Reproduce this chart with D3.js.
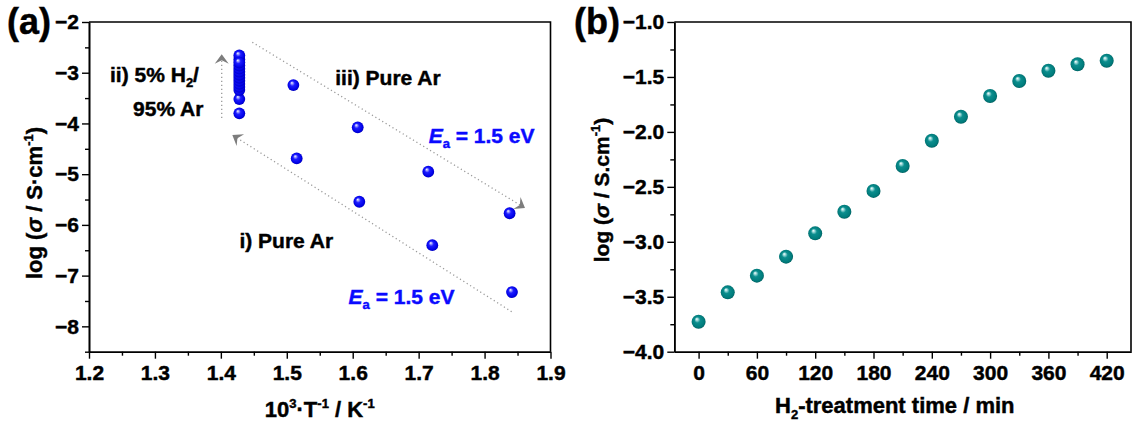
<!DOCTYPE html>
<html><head><meta charset="utf-8">
<script src="https://cdn.jsdelivr.net/npm/d3@7"></script>
<style>
html,body{margin:0;padding:0;background:#fff;}
svg{display:block;font-family:'Liberation Sans',Arial,sans-serif;font-weight:bold;}
svg text{stroke:#000;stroke-width:0.45px;}
svg text.blue{stroke:#0a0aff;}
</style></head><body>
<svg id="chart" width="1132" height="422"></svg>
<script>
// ---- Panel (a): Arrhenius plot, log(conductivity) vs 1000/T ----
const invT_i = [1.515, 1.610, 1.7207, 1.8416];          // i) pure Ar, first heating
const logSigma_i = [-4.69, -5.544, -6.40, -7.325];
const invT_iii = [1.510, 1.6076, 1.7146, 1.838];        // iii) pure Ar after H2 treatment
const logSigma_iii = [-3.243, -4.077, -4.95, -5.77];
const invT_ii = 1.428;                                   // ii) 5% H2 / 95% Ar at 700 K
const logSigma_ii = [-3.80, -3.52, -3.34, -3.28, -3.22, -3.16, -3.10, -3.04, -2.98, -2.92, -2.86, -2.74, -2.66, -2.80];
const ticksA_x = [1.2, 1.3, 1.4, 1.5, 1.6, 1.7, 1.8, 1.9];
const minorA_x = [1.25, 1.35, 1.45, 1.55, 1.65, 1.75, 1.85];
const ticksA_y = [-8, -7, -6, -5, -4, -3, -2];
const minorA_y = [-8.5, -7.5, -6.5, -5.5, -4.5, -3.5, -2.5];

// ---- Panel (b): log(conductivity) vs H2 treatment time ----
const treatTime = [0, 30, 60, 90, 120, 150, 180, 210, 240, 270, 300, 330, 360, 390, 420];
const logSigma_b = [-3.727, -3.46, -3.308, -3.135, -2.923, -2.726, -2.537, -2.31, -2.08, -1.862, -1.673, -1.537, -1.443, -1.385, -1.352];
const ticksB_x = [0, 60, 120, 180, 240, 300, 360, 420];
const minorB_x = [30, 90, 150, 210, 270, 330, 390];
const ticksB_y = [-4.0, -3.5, -3.0, -2.5, -2.0, -1.5, -1.0];
const minorB_y = [-3.75, -3.25, -2.75, -2.25, -1.75, -1.25];

const svg = d3.select('#chart');
const FONT = 21;

// sphere-like marker fills
const defs = svg.append('defs');
function sphere(id, stops) {
  const g = defs.append('radialGradient').attr('id', id)
    .attr('cx', '50%').attr('cy', '50%').attr('r', '55%')
    .attr('fx', '36%').attr('fy', '30%');
  stops.forEach(([o, c]) => g.append('stop').attr('offset', o).attr('stop-color', c));
}
sphere('ballBlue', [[0, '#ffffff'], [0.14, '#a8a8ff'], [0.38, '#1c1cff'], [0.8, '#0000e6'], [1, '#0000a0']]);
sphere('ballTeal', [[0, '#ffffff'], [0.14, '#a6dede'], [0.38, '#0b8e8e'], [0.8, '#007b7b'], [1, '#005252']]);

function frame(g, w, h) {
  g.append('path')
    .attr('d', `M0,0H${w}V${h}`)
    .attr('fill', 'none').attr('stroke', '#000').attr('stroke-width', 1.6);
}

function styleAxis(sel) {
  sel.select('.domain').attr('stroke-width', 1.6);
  sel.selectAll('.tick line').attr('stroke-width', 1.4);
  sel.selectAll('text').attr('font-size', FONT).attr('font-family', "'Liberation Sans',Arial,sans-serif").attr('font-weight', 'bold').attr('fill', '#000');
}

function axes(g, x, y, w, h, tx, mx, ty, my, fx, fy) {
  g.append('g').attr('transform', `translate(0,${h})`)
    .call(d3.axisBottom(x).tickValues(mx).tickSize(4).tickSizeOuter(0).tickFormat(''))
    .call(styleAxis);
  g.append('g').attr('transform', `translate(0,${h})`)
    .call(d3.axisBottom(x).tickValues(tx).tickSize(7).tickPadding(6).tickSizeOuter(0).tickFormat(fx))
    .call(styleAxis);
  g.append('g')
    .call(d3.axisLeft(y).tickValues(my).tickSize(4).tickSizeOuter(0).tickFormat(''))
    .call(styleAxis);
  g.append('g')
    .call(d3.axisLeft(y).tickValues(ty).tickSize(7).tickPadding(3).tickSizeOuter(0).tickFormat(fy))
    .call(styleAxis);
  frame(g, w, h);
}

function yTitle(g, px, py, size, dot) {
  const t = g.append('text').attr('transform', `translate(${px},${py}) rotate(-90)`)
    .attr('text-anchor', 'middle').attr('font-size', size);
  t.append('tspan').text('log (');
  t.append('tspan').attr('font-style', 'italic').text('σ');
  t.append('tspan').text(' / S' + dot + 'cm');
  t.append('tspan').attr('font-size', 13).attr('dy', -9).text('-1');
  t.append('tspan').attr('dy', 9).text(')');
}

// arrow: dotted shaft with an Origin-style head at (x2,y2)
function arrow(g, x1, y1, x2, y2) {
  const ang = Math.atan2(y2 - y1, x2 - x1);
  const back = 6;
  g.append('line')
    .attr('x1', x1).attr('y1', y1)
    .attr('x2', x2 - back * Math.cos(ang)).attr('y2', y2 - back * Math.sin(ang))
    .attr('stroke', '#9a9a9a').attr('stroke-width', 1.3).attr('stroke-dasharray', '1.2,2.8');
  g.append('path')
    .attr('d', 'M0,0L-9.5,-7L-6,0L-9.5,7Z')
    .attr('transform', `translate(${x2},${y2}) rotate(${ang * 180 / Math.PI})`)
    .attr('fill', '#7d7d7d');
}

// ===== Panel (a) =====
const A = {left: 89, top: 22, w: 461.5, h: 329.7};
const gA = svg.append('g').attr('transform', `translate(${A.left},${A.top})`);
const xA = d3.scaleLinear().domain([1.2, 1.9]).range([0, A.w]);
const yA = d3.scaleLinear().domain([-8.5, -2]).range([A.h, 0]);
axes(gA, xA, yA, A.w, A.h, ticksA_x, minorA_x, ticksA_y, minorA_y, d3.format('.1f'), d3.format('d'));

// guide arrows
arrow(gA, xA(1.4013), yA(-3.893), xA(1.4013), yA(-2.637));
arrow(gA, xA(1.4477), yA(-2.400), xA(1.8613), yA(-5.667));
arrow(gA, xA(1.8411), yA(-7.712), xA(1.4174), yA(-4.228));

const rA = 5.9;
const ptsA = [
  ...invT_i.map((v, k) => [v, logSigma_i[k]]),
  ...invT_iii.map((v, k) => [v, logSigma_iii[k]]),
  ...logSigma_ii.map(v => [invT_ii, v])
];
gA.selectAll('circle.pa').data(ptsA).join('circle').attr('class', 'pa')
  .attr('cx', d => xA(d[0])).attr('cy', d => yA(d[1])).attr('r', rA)
  .attr('fill', 'url(#ballBlue)');

// annotations
function label(g, x, y, parts, blue) {
  const t = g.append('text').attr('x', x).attr('y', y).attr('font-size', FONT).attr('fill', blue ? '#0a0aff' : '#000');
  if (blue) t.attr('class', 'blue');
  parts.forEach(p => {
    const s = t.append('tspan').text(p.t);
    if (p.sub) s.attr('font-size', 13).attr('dy', 5);
    if (p.up) s.attr('dy', -5);
    if (p.it) s.attr('font-style', 'italic');
  });
  return t;
}
label(gA, xA(1.2319), yA(-3.183), [{t: 'ii) 5% H'}, {t: '2', sub: true}, {t: '/', up: true}]);
label(gA, xA(1.2668), yA(-3.853), [{t: '95% Ar'}]);
label(gA, xA(1.5735), yA(-3.242), [{t: 'iii) Pure Ar'}]);
label(gA, xA(1.4282), yA(-6.462), [{t: 'i) Pure Ar'}]);
label(gA, xA(1.7152), yA(-4.392), [{t: 'E', it: true}, {t: 'a', sub: true}, {t: ' = 1.5 eV', up: true}], true);
label(gA, xA(1.5937), yA(-7.56), [{t: 'E', it: true}, {t: 'a', sub: true}, {t: ' = 1.5 eV', up: true}], true);

yTitle(svg, 42, 203, 22, '·');
const xtA = svg.append('text').attr('x', A.left + A.w / 2).attr('y', 417)
  .attr('text-anchor', 'middle').attr('font-size', 22);
xtA.append('tspan').text('10');
xtA.append('tspan').attr('font-size', 13).attr('dy', -9).text('3');
xtA.append('tspan').attr('dy', 9).text('·T');
xtA.append('tspan').attr('font-size', 13).attr('dy', -9).text('-1');
xtA.append('tspan').attr('dy', 9).text(' / K');
xtA.append('tspan').attr('font-size', 13).attr('dy', -9).text('-1');

svg.append('text').attr('x', 7).attr('y', 34).attr('font-size', 36).text('(a)');

// ===== Panel (b) =====
const B = {left: 674.3, top: 22, w: 456.7, h: 329.7};
const gB = svg.append('g').attr('transform', `translate(${B.left},${B.top})`);
const xB = d3.scaleLinear().domain([-25, 445]).range([0, B.w]);
const yB = d3.scaleLinear().domain([-4, -1]).range([B.h, 0]);
axes(gB, xB, yB, B.w, B.h, ticksB_x, minorB_x, ticksB_y, minorB_y, d3.format('d'), d3.format('.1f'));

gB.selectAll('circle.pb').data(treatTime).join('circle').attr('class', 'pb')
  .attr('cx', d => xB(d)).attr('cy', (d, k) => yB(logSigma_b[k])).attr('r', 7)
  .attr('fill', 'url(#ballTeal)');

yTitle(svg, 609, 190, 21, '.');
const xtB = svg.append('text').attr('x', 775).attr('y', 413).attr('font-size', 22);
xtB.append('tspan').text('H');
xtB.append('tspan').attr('font-size', 13).attr('dy', 6).text('2');
xtB.append('tspan').attr('dy', -6).text('-treatment time / min');

svg.append('text').attr('x', 574).attr('y', 34).attr('font-size', 36).text('(b)');
</script>
</body></html>
